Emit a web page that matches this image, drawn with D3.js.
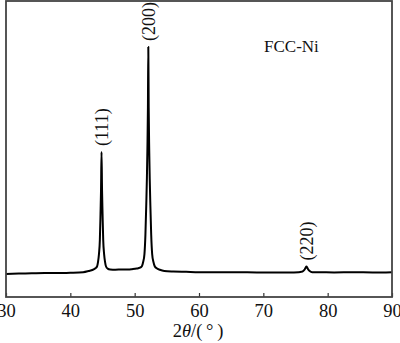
<!DOCTYPE html>
<html>
<head>
<meta charset="utf-8">
<script src="https://cdn.jsdelivr.net/npm/d3@7"></script>
<style>
  html, body { margin: 0; padding: 0; background: #fff; }
  svg { display: block; font-family: "Liberation Serif", "Times New Roman", serif; }
</style>
</head>
<body>
<div id="chart"></div>
<script>
// XRD pattern (2theta in degrees, intensity in a.u.)
const twoTheta = [30, 32, 34, 36, 38, 40, 42, 42.85, 43.5, 43.9, 44.15, 44.3, 44.45, 44.59, 44.69, 44.77, 44.85,
  44.93, 45.01, 45.11, 45.25, 45.4, 45.55, 45.8, 46.2, 47, 48, 49, 49.6, 50.32, 50.82, 51.12, 51.32, 51.52, 51.67,
  51.8, 51.9, 51.98, 52.06, 52.12, 52.18, 52.26, 52.34, 52.44, 52.57, 52.72, 52.92, 53.12, 53.42, 53.92, 54.6,
  56, 58, 60, 63, 66, 69, 72, 74, 75.5, 75.9, 76.2, 76.45, 76.6, 76.7, 76.8, 76.95, 77.2, 77.6, 78.5, 81, 84, 87, 90];
const intensity = [78, 79, 80, 81, 81, 82, 84, 88, 92, 97, 103, 118, 145, 193, 280, 360, 490,
  360, 280, 193, 145, 118, 103, 96, 93, 92, 93, 93, 94, 96, 99, 104, 118, 145, 210,
  310, 400, 500, 640, 845, 640, 500, 400, 310, 210, 145, 118, 104, 97, 92, 88,
  86, 85, 84, 84, 84, 83, 83, 83, 84, 85, 88, 94, 100, 103, 100, 94, 88, 84, 84, 83, 84, 83, 84];

const peakLabels = ['(111)', '(200)', '(220)'];
const peakPos = [44.85, 52.12, 76.7];
const peakTop = [490, 845, 103];

const xTicks = [30, 40, 50, 60, 70, 80, 90];
const phaseLabel = 'FCC-Ni';

const W = 400, H = 343;
const svg = d3.select('#chart').append('svg').attr('width', W).attr('height', H);

const x = d3.scaleLinear().domain([30, 90]).range([6, 392]);
const y = d3.scaleLinear().domain([0, 1000]).range([297, 1]);

// ── Curve ──
const pts = twoTheta.map((t, i) => [t, intensity[i]]);
svg.append('path')
  .datum(pts)
  .attr('fill', 'none')
  .attr('stroke', '#000')
  .attr('stroke-width', 2)
  .attr('stroke-linejoin', 'round')
  .attr('d', d3.line().x(d => x(d[0])).y(d => y(d[1])).curve(d3.curveMonotoneX));

// ── Axis ──
const ax = svg.append('g')
  .attr('transform', 'translate(0,297)')
  .call(d3.axisBottom(x).tickValues(xTicks).tickSize(-4).tickPadding(7).tickFormat(d3.format('d')));
ax.select('.domain').remove();
ax.selectAll('line').attr('stroke', '#333').attr('stroke-width', 1.2);
ax.selectAll('text').attr('fill', '#111').style('font-size', '18.5px')
  .style('font-family', '"Liberation Serif", "Times New Roman", serif');

// frame
svg.append('rect')
  .attr('x', x(30)).attr('y', y(1000))
  .attr('width', x(90) - x(30)).attr('height', y(0) - y(1000))
  .attr('fill', 'none').attr('stroke', '#444').attr('stroke-width', 1.8);

// ── Peak labels ──
peakLabels.forEach((lab, i) => {
  const px = x(peakPos[i]), py = y(peakTop[i]) - 6;
  svg.append('text')
    .attr('transform', 'translate(' + px + ',' + py + ') rotate(-90)')
    .attr('dy', '0.35em')
    .style('font-size', '18px').style('fill', '#111')
    .text(lab);
});

svg.append('text').attr('x', 264).attr('y', 52)
  .style('font-size', '17px').style('fill', '#111')
  .text(phaseLabel);

// axis title
const t = svg.append('text').attr('x', 198).attr('y', 337)
  .attr('text-anchor', 'middle').style('font-size', '18.5px').style('fill', '#111');
t.append('tspan').text('2');
t.append('tspan').style('font-style', 'italic').text('θ');
t.append('tspan').text('/(\u2009°\u2009)');
</script>
</body>
</html>
